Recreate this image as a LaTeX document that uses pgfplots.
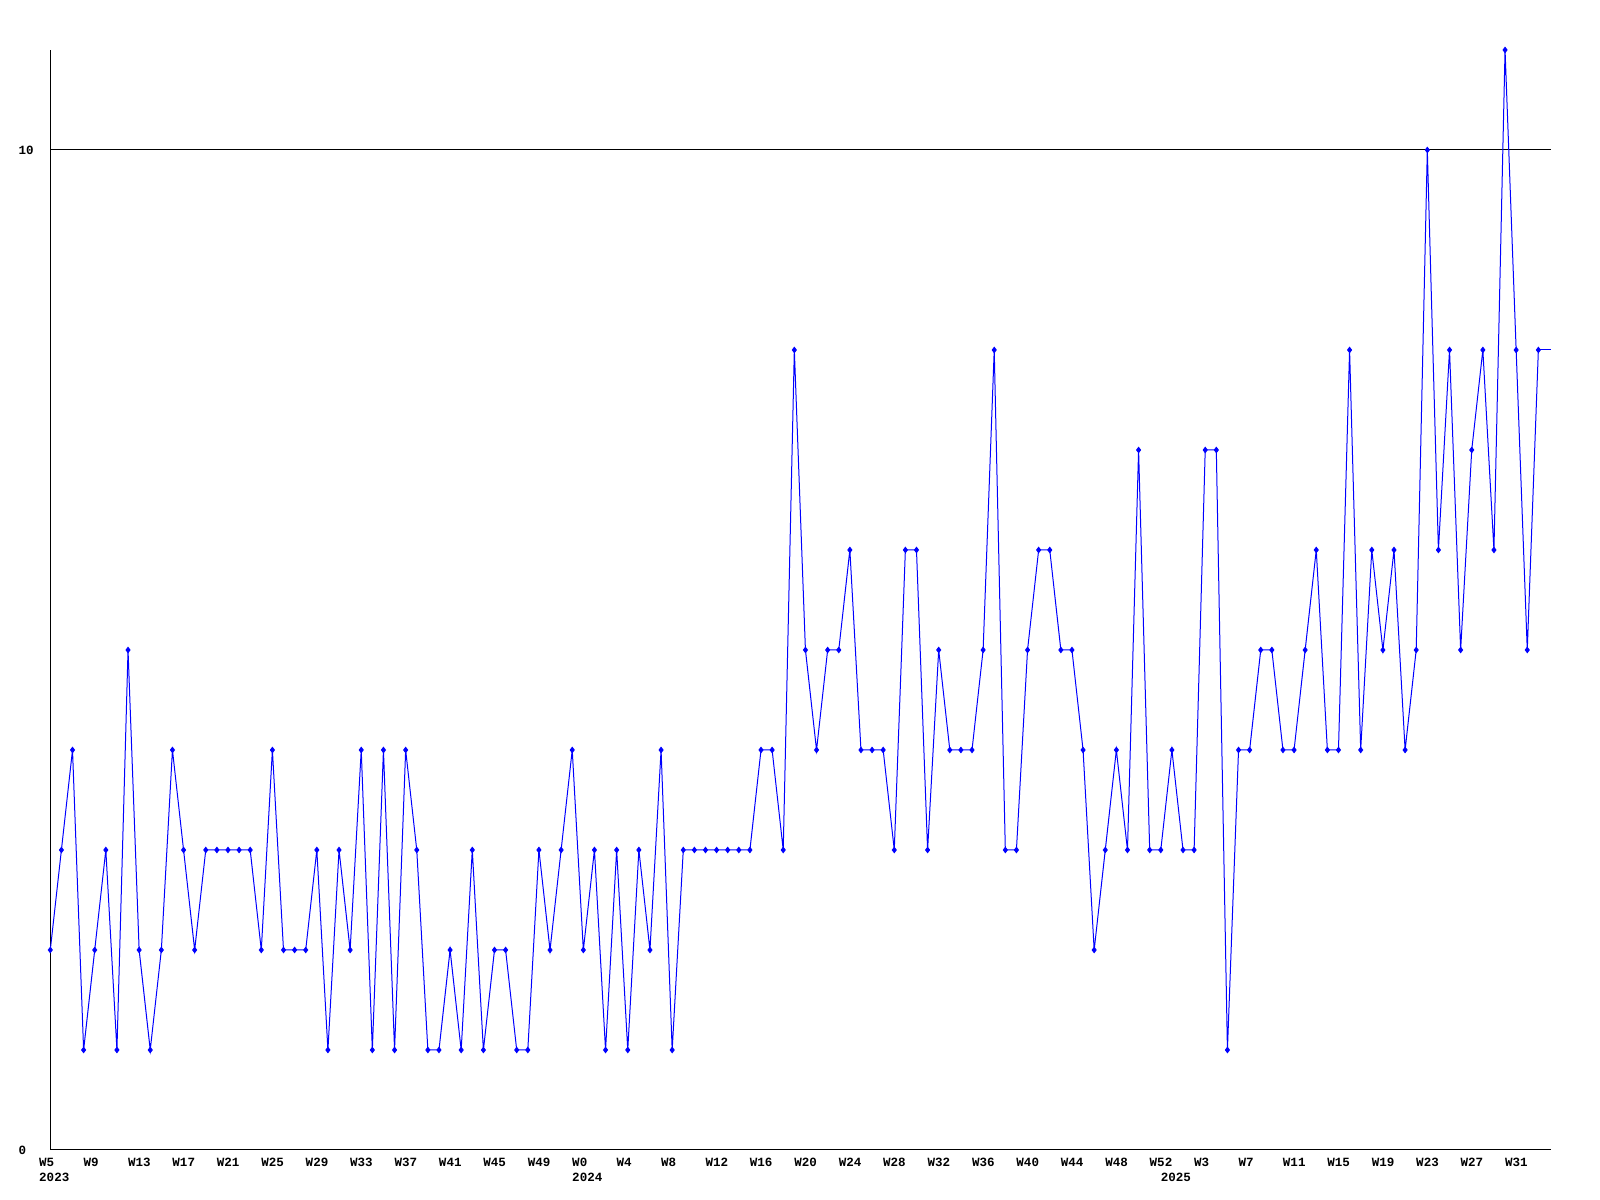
\documentclass[border=0pt]{standalone}
\usepackage{pgfplots}
\pgfplotsset{compat=1.18}
\usepackage{fontspec}
\setmainfont{Liberation Mono}
\newcommand{\lblfont}{\fontsize{6.3}{7}\selectfont\bfseries}
\begin{document}
\begin{tikzpicture}[x=1bp,y=1bp]
\useasboundingbox (0,0) rectangle (800,600);
\begin{axis}[
  at={(25.15bp,25bp)}, anchor=south west,
  width=750.35bp, height=550bp, scale only axis,
  xmin=0, xmax=135.14, ymin=0, ymax=11,
  axis x line=bottom, axis y line=left,
  axis line style={-, black, line width=0.5bp},
  xtick={0,4,...,132},
  xticklabels={W5,W9,W13,W17,W21,W25,W29,W33,W37,W41,W45,W49,W0,W4,W8,W12,W16,W20,W24,W28,W32,W36,W40,W44,W48,W52,W3,W7,W11,W15,W19,W23,W27,W31},
  ytick={0,10}, yticklabels={0,10},
  major tick length=0pt,
  ymajorgrids, grid style={black, line width=0.5bp},
  xticklabel style={font=\lblfont, anchor=west, inner sep=0pt, yshift=-6bp, xshift=-5.75bp},
  yticklabel style={font=\lblfont, anchor=west, inner sep=0pt, xshift=-16bp},
  clip=false,
]
\addplot[blue, line width=0.5bp, mark=diamond*, mark size=1.3bp, mark options={solid, fill=blue}] table {
x y
0 2
1 3
2 4
3 1
4 2
5 3
6 1
7 5
8 2
9 1
10 2
11 4
12 3
13 2
14 3
15 3
16 3
17 3
18 3
19 2
20 4
21 2
22 2
23 2
24 3
25 1
26 3
27 2
28 4
29 1
30 4
31 1
32 4
33 3
34 1
35 1
36 2
37 1
38 3
39 1
40 2
41 2
42 1
43 1
44 3
45 2
46 3
47 4
48 2
49 3
50 1
51 3
52 1
53 3
54 2
55 4
56 1
57 3
58 3
59 3
60 3
61 3
62 3
63 3
64 4
65 4
66 3
67 8
68 5
69 4
70 5
71 5
72 6
73 4
74 4
75 4
76 3
77 6
78 6
79 3
80 5
81 4
82 4
83 4
84 5
85 8
86 3
87 3
88 5
89 6
90 6
91 5
92 5
93 4
94 2
95 3
96 4
97 3
98 7
99 3
100 3
101 4
102 3
103 3
104 7
105 7
106 1
107 4
108 4
109 5
110 5
111 4
112 4
113 5
114 6
115 4
116 4
117 8
118 4
119 6
120 5
121 6
122 4
123 5
124 10
125 6
126 8
127 5
128 7
129 8
130 6
131 11
132 8
133 5
134 8
};
\addplot[blue, line width=0.5bp, no marks] coordinates {(134,8) (135.14,8)};
\node[font=\lblfont, inner sep=0pt, anchor=west, yshift=-13.5bp, xshift=-5.75bp] at (axis cs:0,0) {2023};
\node[font=\lblfont, inner sep=0pt, anchor=west, yshift=-13.5bp, xshift=-5.75bp] at (axis cs:48,0) {2024};
\node[font=\lblfont, inner sep=0pt, anchor=west, yshift=-13.5bp, xshift=-5.75bp] at (axis cs:101,0) {2025};
\end{axis}
\end{tikzpicture}
\end{document}
